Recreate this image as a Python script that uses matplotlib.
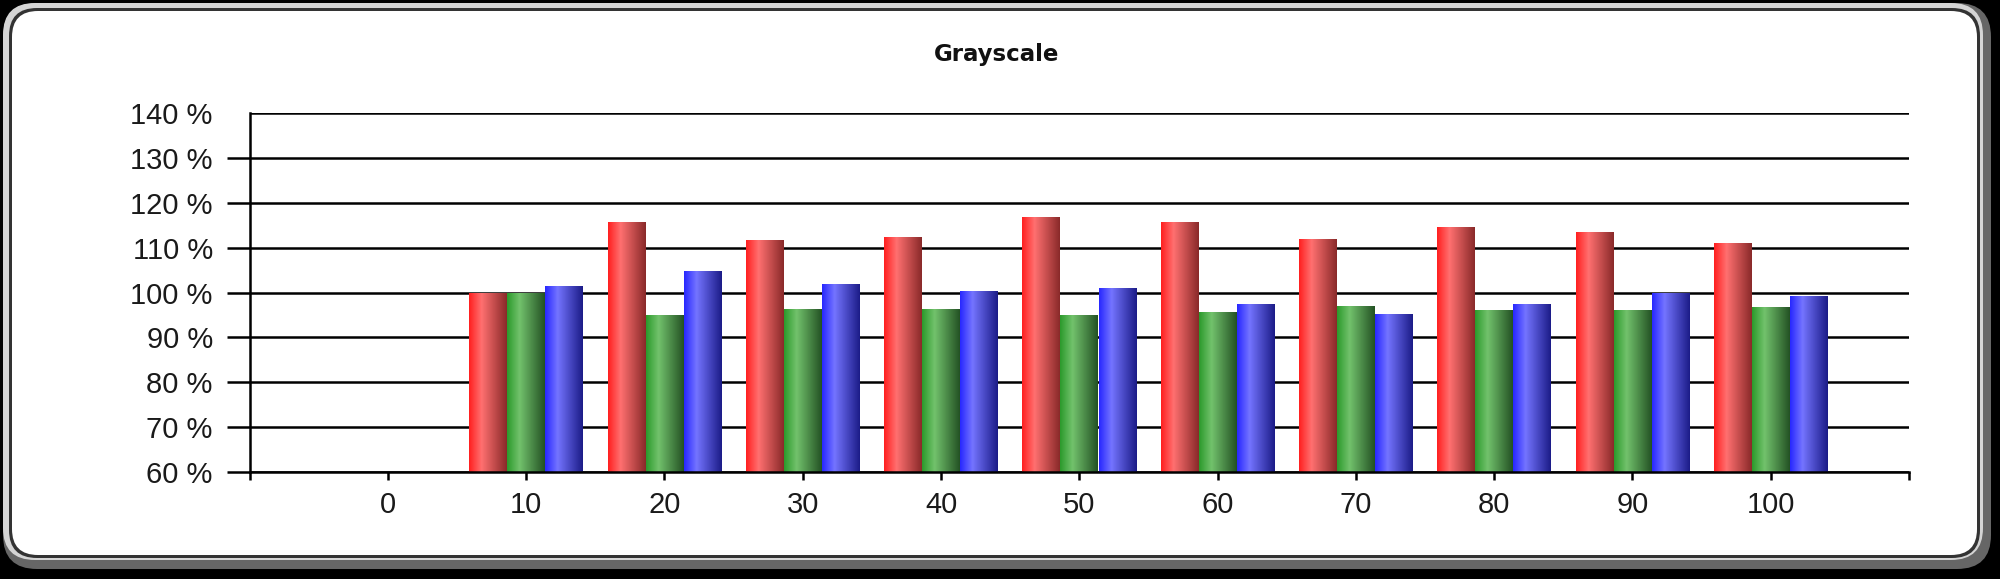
import numpy as np
import matplotlib.pyplot as plt
from matplotlib.patches import FancyBboxPatch
from matplotlib.transforms import IdentityTransform

# grayscale tracking, % of target per channel (0 step has no reading)
categories = ['0', '10', '20', '30', '40', '50', '60', '70', '80', '90', '100']
red = [np.nan, 100.0, 115.7, 111.7, 112.3, 116.8, 115.8, 111.9, 114.6, 113.5, 111.1]
green = [np.nan, 100.0, 95.1, 96.3, 96.3, 95.1, 95.7, 96.9, 96.2, 96.2, 96.8]
blue = [np.nan, 101.4, 104.8, 102.0, 100.3, 101.0, 97.5, 95.2, 97.5, 100.0, 99.2]
yticks = [60, 70, 80, 90, 100, 110, 120, 130, 140]

W, H = 2000, 579
fig = plt.figure(figsize=(W / 100, H / 100), dpi=100, facecolor='black')


def frame(x0, y0, x1, y1, r, **kw):
    # pixel box, y measured from the top
    p = FancyBboxPatch((x0, H - y1), x1 - x0, y1 - y0,
                       boxstyle='round,pad=0,rounding_size=%d' % r,
                       transform=IdentityTransform(), zorder=-5, **kw)
    fig.add_artist(p)


frame(3, 3, 1991, 569, 34, facecolor='#666666', edgecolor='none')
frame(3, 3, 1983, 560, 32, facecolor='#d4d4d4', edgecolor='none')
frame(9, 8, 1980, 558, 28, facecolor='#333333', edgecolor='none')
frame(12, 11, 1977, 555, 26, facecolor='white', edgecolor='none')

ax = fig.add_axes([0.1248, 0.1848, 0.8297, 0.6198])
ax.set_facecolor('none')

x = np.arange(len(categories))
w = 0.272
series = [
    (red, -0.275, ['#ff2020', '#ff7070', '#8a2a2a']),
    (green, 0.0, ['#2c9a2c', '#72c26c', '#245224']),
    (blue, 0.275, ['#2828ff', '#7474ff', '#1c1c88']),
]

ymin, ymax = 60, 140
for vals, off, stops in series:
    rgb = np.array([[int(c[i:i + 2], 16) / 255 for i in (1, 3, 5)] for c in stops])
    t = np.linspace(0, 1, 64)
    grad = np.stack([np.interp(t, [0, 0.33, 1], rgb[:, k]) for k in range(3)], axis=-1)[None, :, :]
    bars = ax.bar(x + off, vals, width=w, color='none', edgecolor='none', zorder=2)
    for b in bars:
        h = b.get_height()
        if np.isnan(h):
            continue
        im = ax.imshow(grad, extent=(b.get_x(), b.get_x() + b.get_width(), ymin, h),
                       aspect='auto', zorder=2, interpolation='bilinear')
        im.set_clip_path(b)

ax.set_xlim(-1, 11)
ax.set_ylim(ymin, ymax)
ax.set_xticks(np.arange(-1, 12))
ax.set_xticklabels([''] + categories + [''])
ax.set_yticks(yticks)
ax.set_yticklabels(['%d %%' % v for v in yticks])

ax.yaxis.grid(True, color='black', linewidth=1.8)
ax.set_axisbelow(True)
for s in ('top', 'right'):
    ax.spines[s].set_visible(False)
for s in ('left', 'bottom'):
    ax.spines[s].set_linewidth(1.8)
    ax.spines[s].set_color('black')

ax.tick_params(axis='y', length=16.5, width=1.8, pad=10, labelsize=21, labelcolor='#1a1a1a')
ax.tick_params(axis='x', length=6, width=1.8, pad=8, labelsize=21, labelcolor='#1a1a1a')
ax.yaxis.get_major_ticks()[-1].tick1line.set_visible(False)
for lab in ax.get_xticklabels() + ax.get_yticklabels():
    lab.set_family('Liberation Sans')

fig.text(0.4985, 1 - 55 / H, 'Grayscale', ha='center', va='center',
         fontsize=16.5, fontweight='bold', family='DejaVu Sans', color='#111111')

fig.savefig('out.png', dpi=100, facecolor='black')
